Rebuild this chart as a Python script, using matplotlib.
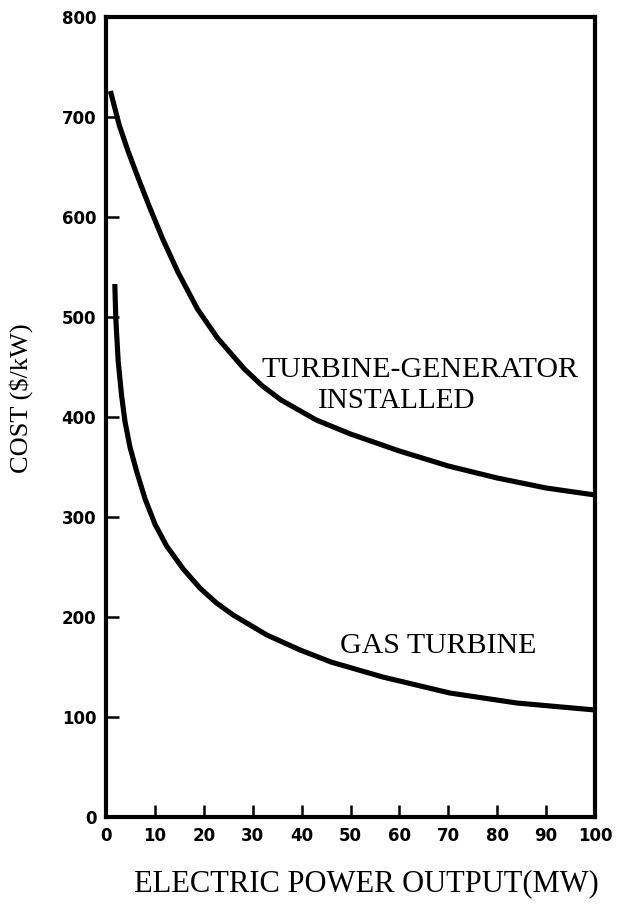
import matplotlib
matplotlib.use("Agg")
import matplotlib.pyplot as plt

# Data
tg_x = [0.9, 2.7, 4.5, 6.5, 8.9, 11.6, 14.7, 18.7, 22.8, 28.3, 32.0, 35.8, 43.0, 50.0, 60.0, 70.0, 80.0, 90.0, 100.0]
tg_y = [726, 692, 666, 640, 610, 578, 545, 508, 479, 448, 431, 417, 397, 383, 366, 351, 339, 329, 322]

gas_x = [1.8, 2.0, 2.5, 3.2, 3.9, 4.9, 6.3, 8.0, 10.0, 12.4, 15.8, 19.2, 22.6, 26.0, 32.9, 39.7, 46.0, 56.6, 70.3, 84.0, 100.0]
gas_y = [533, 499, 455, 421, 395, 370, 345, 318, 293, 271, 248, 229, 214, 202, 182, 167, 155, 140, 124, 114, 107]

x_ticks = [0, 10, 20, 30, 40, 50, 60, 70, 80, 90, 100]
y_ticks = [0, 100, 200, 300, 400, 500, 600, 700, 800]

fig = plt.figure(figsize=(6.17, 9.05), dpi=100)
ax = fig.add_axes([106/617, 1 - 817/905, (595 - 106)/617, (817 - 17)/905])

ax.plot(tg_x, tg_y, color="black", lw=3.7, solid_capstyle="butt", solid_joinstyle="round")
ax.plot(gas_x, gas_y, color="black", lw=3.7, solid_capstyle="butt", solid_joinstyle="round")

ax.set_xlim(0, 100)
ax.set_ylim(0, 800)
ax.set_xticks(x_ticks)
ax.set_yticks(y_ticks)
ax.set_xticklabels([str(v) for v in x_ticks], fontsize=12, fontweight="bold", family="DejaVu Sans")
ax.set_yticklabels([str(v) for v in y_ticks], fontsize=12, fontweight="bold", family="DejaVu Sans")
ax.tick_params(axis="both", direction="in", length=9, width=1.8, colors="black")
ax.tick_params(axis="x", pad=7)
ax.tick_params(axis="y", pad=7)
for s in ax.spines.values():
    s.set_linewidth(3.0)
    s.set_color("black")

serif = ["Liberation Serif", "DejaVu Serif"]
fig.text(420/617, 1 - 370/905, "TURBINE-GENERATOR", ha="center", va="center",
         fontsize=21.5, family=serif)
fig.text(397/617, 1 - 401/905, "INSTALLED", ha="center", va="center",
         fontsize=21, family=serif)
fig.text(438/617, 1 - 646/905, "GAS TURBINE", ha="center", va="center",
         fontsize=21.5, family=serif)

fig.text(366/617, 1 - 884/905, "ELECTRIC POWER OUTPUT(MW)", ha="center", va="center",
         fontsize=22, family=serif)
fig.text(21/617, 1 - 398/905, "COST ($/kW)", ha="center", va="center", rotation=90,
         fontsize=19, family=serif)

fig.savefig("out.png", dpi=100, facecolor="white")
